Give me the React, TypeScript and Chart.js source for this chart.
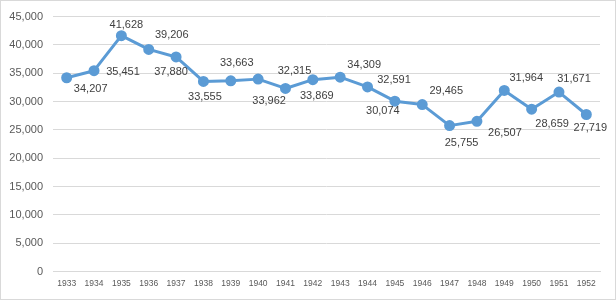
import React, { useEffect, useRef } from "react";
import { Chart, registerables } from "chart.js";

Chart.register(...registerables);

const years = ["1933","1934","1935","1936","1937","1938","1939","1940","1941","1942","1943","1944","1945","1946","1947","1948","1949","1950","1951","1952"];
const values = [34207,35451,41628,39206,37880,33555,33663,33962,32315,33869,34309,32591,30074,29465,25755,26507,31964,28659,31671,27719];
const yTicksMax = 45000;
const yTickStep = 5000;

// label placement offsets (px) relative to each point
const labelDx = [24,29,5,23,-5,1.5,6,11,9,4,24,26.5,-12,24,12,28,22,20.5,15,4];
const labelDy = [11,1,-11,-14,15,16,-17.5,22,-17.6,16,-12,-7,10,-14,17,11.5,-12,15,-13,13];

const fmt = (v: number) => v.toLocaleString("en-US");

export default function App() {
  const ref = useRef<HTMLCanvasElement>(null);
  useEffect(() => {
    document.body.style.margin = "0";
    const labelPlugin = {
      id: "dataLabels",
      afterDatasetsDraw(chart: any) {
        const ctx = chart.ctx;
        const meta = chart.getDatasetMeta(0);
        ctx.save();
        ctx.font = "11px 'Liberation Sans'";
        ctx.fillStyle = "#404040";
        ctx.textAlign = "center";
        ctx.textBaseline = "middle";
        meta.data.forEach((pt: any, i: number) => {
          ctx.fillText(fmt(values[i]), pt.x + labelDx[i], pt.y + labelDy[i]);
        });
        ctx.restore();
      },
    };
    const borderPlugin = {
      id: "outerBorder",
      afterDraw(chart: any) {
        const ctx = chart.ctx;
        ctx.save();
        ctx.strokeStyle = "#d9d9d9";
        ctx.lineWidth = 1;
        ctx.strokeRect(0.5, 0.5, chart.width - 1, chart.height - 1);
        ctx.restore();
      },
    };
    const chart = new Chart(ref.current!, {
      type: "line",
      data: {
        labels: years,
        datasets: [
          {
            data: values,
            borderColor: "#5B9BD5",
            backgroundColor: "#5B9BD5",
            borderWidth: 3,
            pointRadius: 4,
            pointHoverRadius: 4,
            pointBackgroundColor: "#5B9BD5",
            pointBorderColor: "#5B9BD5",
            borderJoinStyle: "round",
            tension: 0,
          },
        ],
      },
      options: {
        animation: false,
        responsive: false,
        devicePixelRatio: 1,
        layout: { padding: { left: 0, top: 13, right: 16, bottom: 0 } },
        plugins: { legend: { display: false }, tooltip: { enabled: false } },
        scales: {
          x: {
            offset: true,
            grid: { display: false, drawTicks: false, offset: true },
            border: { display: true, color: "#d9d9d9" },
            ticks: {
              color: "#595959",
              font: { family: "'Liberation Sans'", size: 8.5 },
              padding: 7,
              maxRotation: 0,
              autoSkip: false,
            },
            afterFit(scale: any) {
              scale.height = 28.5;
            },
          },
          y: {
            min: 0,
            max: yTicksMax,
            grid: { color: "#d9d9d9", drawTicks: false },
            border: { display: false },
            ticks: {
              stepSize: yTickStep,
              color: "#595959",
              font: { family: "'Liberation Sans'", size: 11 },
              padding: 10,
              callback: (v: any) => fmt(Number(v)),
            },
            afterFit(scale: any) {
              scale.width = 53;
            },
          },
        },
      },
      plugins: [labelPlugin, borderPlugin],
    });
    return () => chart.destroy();
  }, []);
  return (
    <div style={{ width: 616, height: 300 }}>
      <canvas ref={ref} width={616} height={300} style={{ display: "block" }} />
    </div>
  );
}
